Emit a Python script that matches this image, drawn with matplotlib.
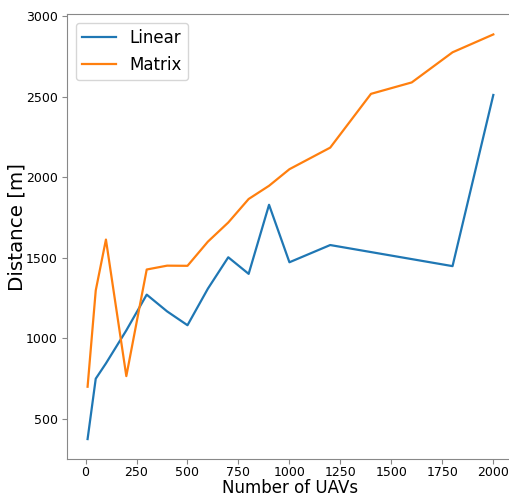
import matplotlib
matplotlib.use("Agg")
import matplotlib.pyplot as plt

# number of UAVs
linear_x = [10, 50, 100, 200, 300, 400, 500, 600, 700, 800, 900, 1000, 1200, 1800, 2000]
linear_y = [375, 750, 845, 1050, 1272, 1168, 1082, 1309, 1504, 1401, 1830, 1473, 1580, 1449, 2512]

matrix_x = [10, 50, 100, 200, 300, 400, 500, 600, 700, 800, 900, 1000, 1200, 1400, 1600, 1800, 2000]
matrix_y = [700, 1298, 1614, 766, 1428, 1452, 1451, 1601, 1720, 1866, 1948, 2051, 2185, 2519, 2590, 2777, 2888]

fig = plt.figure(figsize=(5.09, 4.97), dpi=100)
# the original was cropped on the right, so the axes run past the figure edge
ax = fig.add_axes([67.3 / 509, 1 - 459.3 / 497, (513.6 - 67.3) / 509, (459.3 - 14.2) / 497])

ax.plot(linear_x, linear_y, label='Linear', color='#1f77b4', linewidth=1.6)
ax.plot(matrix_x, matrix_y, label='Matrix', color='#ff7f0e', linewidth=1.6)

ax.set_xlabel('Number of UAVs', fontsize=12, labelpad=0)
ax.set_ylabel('Distance [m]', fontsize=14.3)
ax.yaxis.set_label_coords(-0.092, 0.522)
ax.set_xticks([0, 250, 500, 750, 1000, 1250, 1500, 1750, 2000])
ax.set_yticks([500, 1000, 1500, 2000, 2500, 3000])
ax.tick_params(labelsize=9, color='#888888')
ax.tick_params(axis='x', pad=1.5)
for s in ax.spines.values():
    s.set_color('#888888')
ax.legend(loc='upper left', fontsize=12)

fig.savefig("out.png", dpi=100)
